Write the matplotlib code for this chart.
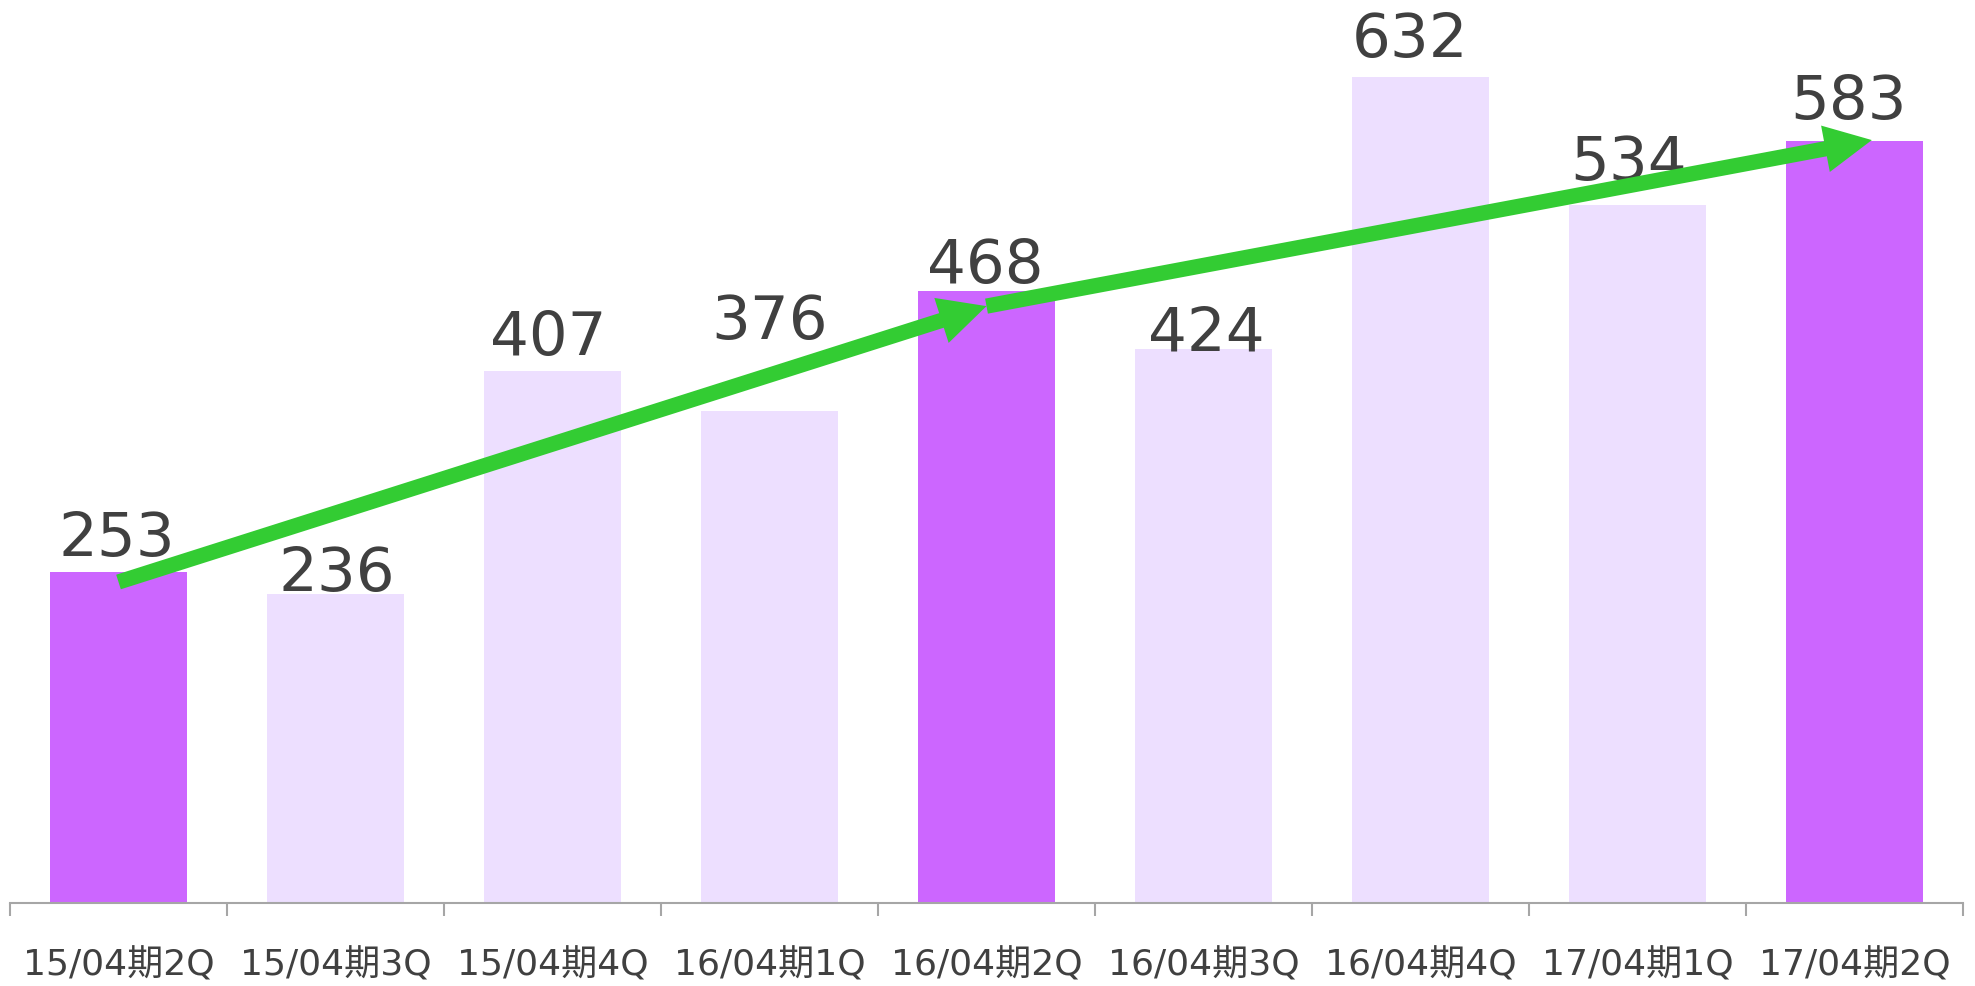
import matplotlib
matplotlib.use("Agg")
import matplotlib.pyplot as plt
from matplotlib.patches import FancyArrowPatch

plt.rcParams["font.family"] = ["DejaVu Sans", "Noto Sans CJK JP"]

# data
quarters = ["15/04期2Q", "15/04期3Q", "15/04期4Q", "16/04期1Q", "16/04期2Q",
            "16/04期3Q", "16/04期4Q", "17/04期1Q", "17/04期2Q"]
values = [253, 236, 407, 376, 468, 424, 632, 534, 583]
highlight = [0, 4, 8]  # 2Q bars, joined by the trend arrows

# label nudges (pixels) - the labels in the original are not evenly placed
label_dx = [-2, 1, -4, 0, -1, 3, -10, -9, -6]
label_dy = [17, 4, 17, 73, 9, -1, 21, 26, 23]

HI_COLOR = "#CC66FF"
LO_COLOR = "#EDDFFF"
GREEN = "#33CC33"
TEXT = "#404040"
AXIS = "#A6A6A6"

fig = plt.figure(figsize=(19.75, 9.87), dpi=100)
ax = fig.add_axes([10 / 1975, 1 - 904 / 987, 1953 / 1975, 904 / 987])

xs = list(range(len(values)))
colors = [HI_COLOR if i in highlight else LO_COLOR for i in xs]
ax.bar(xs, values, width=0.635, color=colors, zorder=2)

px2pt = 72 / fig.dpi
for i, v in enumerate(values):
    ax.annotate(str(v), xy=(i, v), xytext=(label_dx[i] * px2pt, label_dy[i] * px2pt),
                textcoords="offset points", ha="center", va="baseline",
                fontsize=44, color=TEXT, zorder=3, annotation_clip=False)

# trend arrows between the highlighted quarters
pts = [(highlight[0], values[highlight[0]] - 7.5),
       (highlight[1], values[highlight[1]] - 11.5),
       (highlight[2] + 0.08, values[highlight[2]] + 0.5)]
for a, b in zip(pts[:-1], pts[1:]):
    arr = FancyArrowPatch(a, b, arrowstyle="simple,head_length=3.4,head_width=3.4,tail_width=1.1",
                          mutation_scale=10, color=GREEN, lw=0, shrinkA=0, shrinkB=0, zorder=4)
    ax.add_patch(arr)

ax.set_xlim(-0.5, len(values) - 0.5)
ax.set_ylim(0, 904 / 1.3075)

for s in ["top", "right", "left"]:
    ax.spines[s].set_visible(False)
ax.spines["bottom"].set_color(AXIS)
ax.spines["bottom"].set_linewidth(1.5)
ax.set_yticks([])

ax.set_xticks([i - 0.5 for i in range(len(values) + 1)])
ax.set_xticklabels([])
ax.tick_params(axis="x", which="major", direction="out", length=9.4, width=1.5, color=AXIS)
ax.set_xticks(xs, minor=True)
ax.set_xticklabels(quarters, minor=True)
ax.tick_params(axis="x", which="minor", length=0, pad=32, labelsize=26, labelcolor=TEXT)

fig.savefig("out.png", dpi=100)
